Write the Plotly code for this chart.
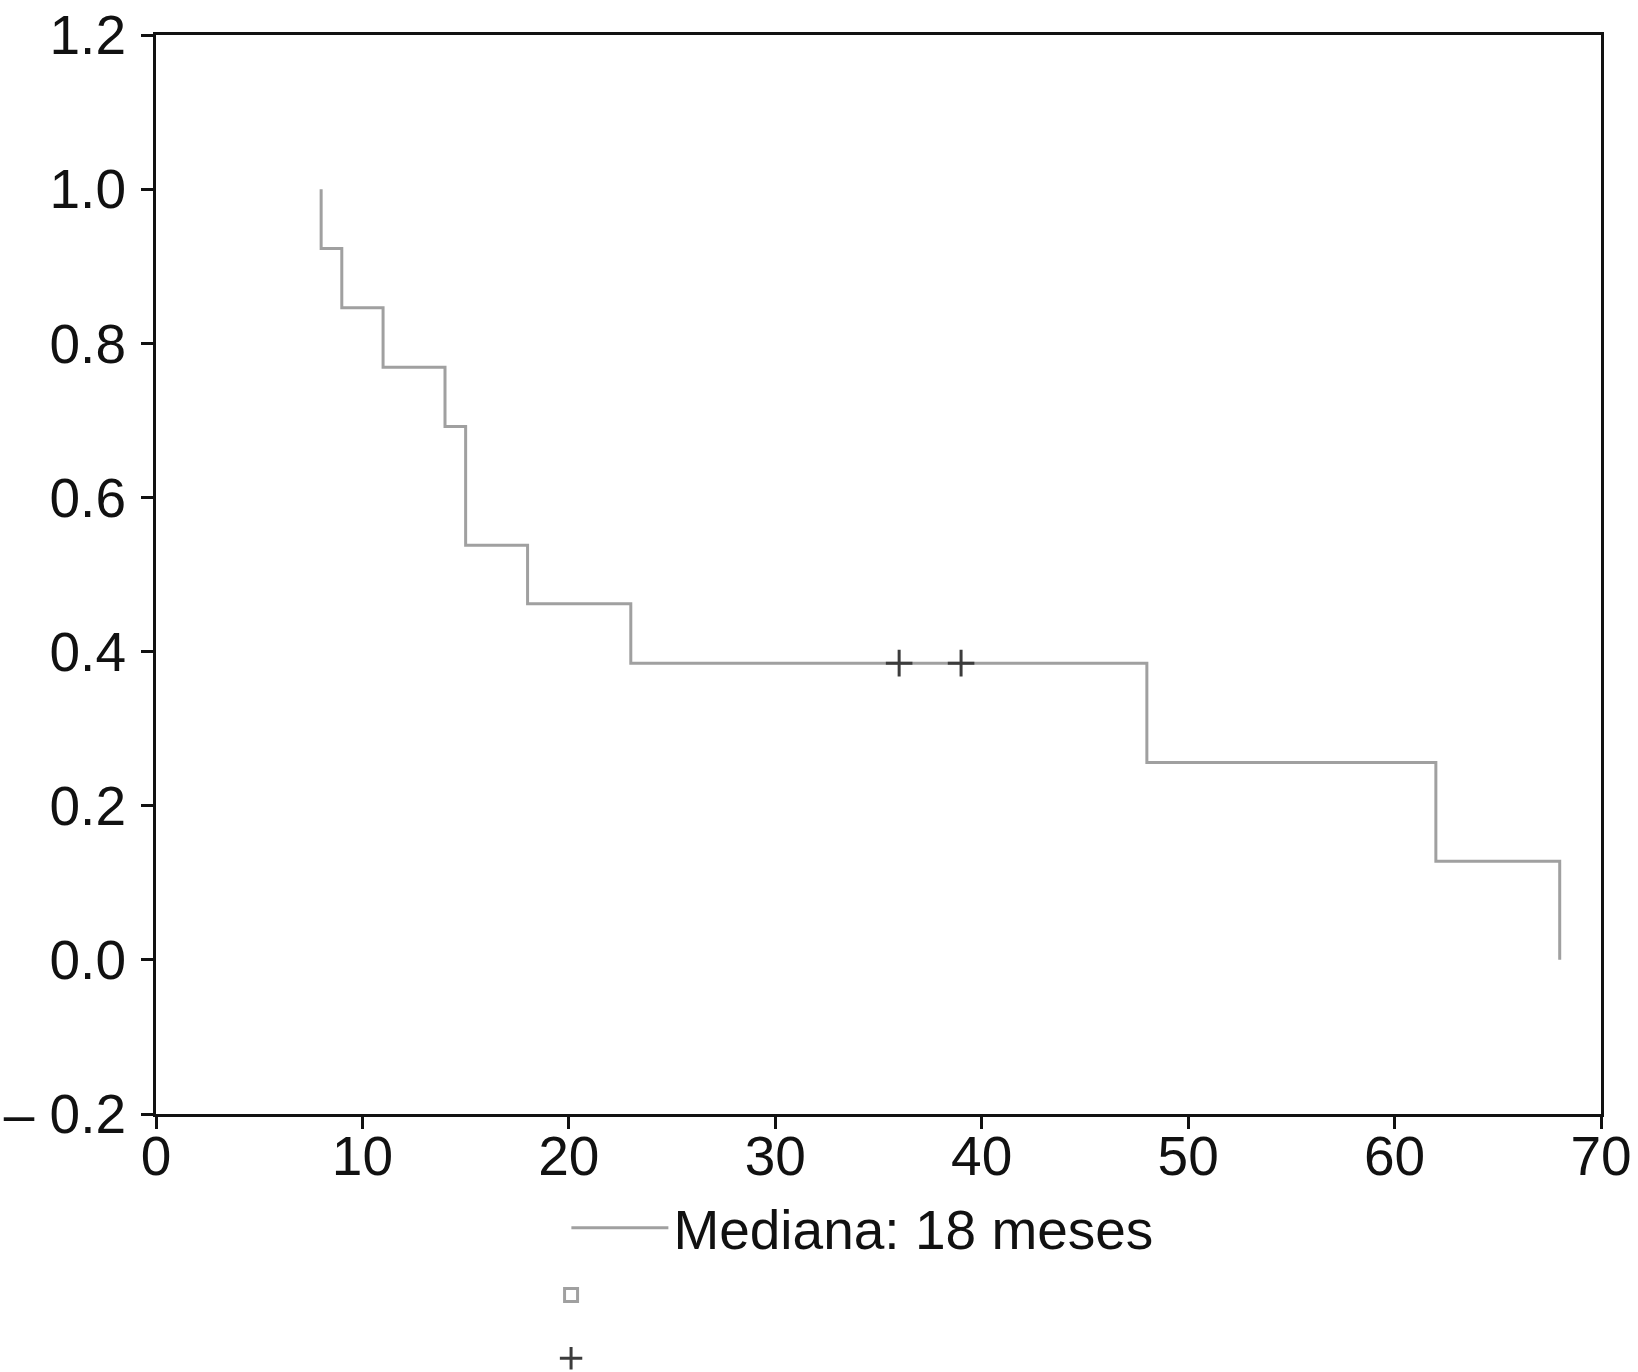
import plotly.graph_objects as go

# Kaplan-Meier step data (months, survival)
step_times = [8, 8, 9, 11, 14, 15, 18, 23, 48, 62, 68]
step_surv = [1.0, 0.923, 0.846, 0.769, 0.692, 0.538, 0.462, 0.385, 0.256, 0.128, 0.0]

# Censored observations
cens_times = [36, 39]
cens_surv = [0.385, 0.385]

x_ticks = [0, 10, 20, 30, 40, 50, 60, 70]
x_ticktext = ["0", "10", "20", "30", "40", "50", "60", "70"]
y_ticks = [-0.2, 0.0, 0.2, 0.4, 0.6, 0.8, 1.0, 1.2]
y_ticktext = ["– 0.2", "0.0", "0.2", "0.4", "0.6", "0.8", "1.0", "1.2"]

legend_label = "Mediana: 18 meses"

FONT = "Liberation Sans, Arial, Helvetica, sans-serif"
CURVE = "#a0a0a0"
CENS = "#3c3c3c"
INK = "#111111"
FS = 55

fig = go.Figure()
fig.add_trace(go.Scatter(
    x=step_times, y=step_surv, mode="lines", line_shape="hv",
    line=dict(color=CURVE, width=3), name=legend_label, hoverinfo="skip",
    legend="legend",
))
fig.add_trace(go.Scatter(
    x=[None], y=[None], mode="markers", name=" ",
    marker=dict(symbol="square-open", size=13, color=CURVE, line=dict(width=3, color=CURVE)),
    legend="legend2",
))
fig.add_trace(go.Scatter(
    x=cens_times, y=cens_surv, mode="markers", name=" ",
    marker=dict(symbol="cross-thin", size=19, color=CENS, line=dict(width=3, color=CENS)),
    legend="legend3", hoverinfo="skip",
))

axis_common = dict(
    showline=True, linecolor=INK, linewidth=3, mirror=True,
    ticks="outside", ticklen=12, tickwidth=3, tickcolor=INK,
    showgrid=False, zeroline=False, ticklabeloverflow="allow",
    tickfont=dict(family=FONT, size=FS, color=INK),
)

legend_common = dict(
    xanchor="left", yanchor="middle",
    font=dict(family=FONT, size=FS, color=INK),
    bgcolor="rgba(0,0,0,0)", borderwidth=0, itemsizing="trace",
)

fig.update_layout(
    width=1638, height=1372,
    margin=dict(l=156, r=37, t=35, b=258, autoexpand=False),
    paper_bgcolor="white", plot_bgcolor="white",
    font=dict(family=FONT, size=FS, color=INK),
    xaxis=dict(range=[0, 70], tickvals=x_ticks, ticktext=x_ticktext,
               ticklabelstandoff=-20, **axis_common),
    yaxis=dict(range=[-0.2, 1.2], tickvals=y_ticks, ticktext=y_ticktext,
               ticklabelstandoff=4, **axis_common),
    showlegend=True,
    legend=dict(x=0.284, y=-0.1057, itemwidth=97, **legend_common),
    legend2=dict(x=0.2734, y=-0.168, **legend_common),
    legend3=dict(x=0.2734, y=-0.2266, **legend_common),
)

fig.write_html(
    "out.html",
    config={"displayModeBar": False},
    post_script="document.body.style.margin='0';document.body.style.overflow='hidden';",
)
